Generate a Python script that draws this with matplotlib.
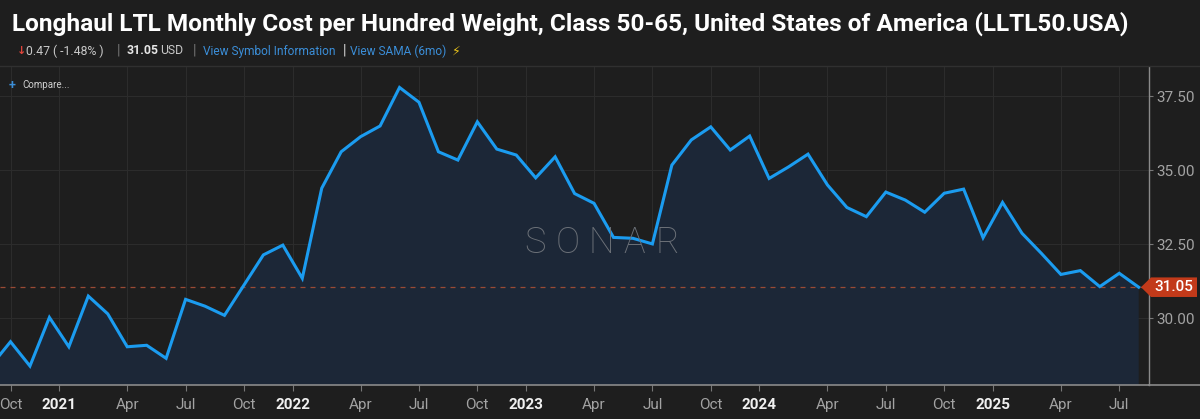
import matplotlib
matplotlib.use("Agg")
import matplotlib.pyplot as plt
import matplotlib.transforms as mtransforms
from matplotlib.patches import Polygon
import pandas as pd
import numpy as np

# ---------------- data ----------------
start_month = "2020-09"
values = [28.40, 29.21, 28.39, 30.03, 29.04, 30.75, 30.15, 29.04, 29.09, 28.65,
          30.64, 30.41, 30.10, 31.12, 32.14, 32.47, 31.35, 34.39, 35.62, 36.13,
          36.49, 37.79, 37.29, 35.62, 35.34, 36.63, 35.71, 35.51, 34.74, 35.45,
          34.21, 33.88, 32.73, 32.70, 32.51, 35.17, 36.02, 36.46, 35.68, 36.15,
          34.72, 35.11, 35.54, 34.50, 33.74, 33.43, 34.26, 33.99, 33.58, 34.22,
          34.36, 32.72, 33.91, 32.87, 32.19, 31.48, 31.61, 31.07, 31.52, 31.05]
y_ticks = [30.00, 32.50, 35.00, 37.50]
title = "Longhaul LTL Monthly Cost per Hundred Weight, Class 50-65, United States of America (LLTL50.USA)"
change_text = "0.47 ( -1.48% )"
last_text = "31.05"
unit_text = "USD"
link1 = "View Symbol Information"
link2 = "View SAMA (6mo)"

dates = pd.date_range(start_month, periods=len(values), freq="MS")
x = np.arange(len(values))

# ---------------- style ----------------
BG = "#1e1e1e"
FILL = "#1c2737"
LINE = "#1b9cf0"
GRID = "#2c2c2c"
TICK = "#a3a3a3"
FONT = ["Roboto", "DejaVu Sans"]
plt.rcParams["font.family"] = FONT

W, H = 1200, 419
fig = plt.figure(figsize=(W / 100, H / 100), dpi=100, facecolor=BG)

ax_left, ax_right = 0 / W, 1149 / W
ax_top, ax_bottom = 67 / H, 385 / H
ax = fig.add_axes([ax_left, 1 - ax_bottom, ax_right - ax_left, ax_bottom - ax_top])
ax.set_facecolor(BG)

ax.fill_between(x, values, 0, color=FILL, zorder=1, linewidth=0)
ax.plot(x, values, color=LINE, lw=2.2, zorder=3, solid_joinstyle="miter")
ax.set_xlim(0.46, 59.53)
ax.set_ylim(27.75, 38.48)

# last value dashed line
ax.axhline(values[-1], color="#9a4a34", lw=0.9, ls=(0, (4, 4)), zorder=2)

# ticks
mt, ml, yt, yl = [], [], [], []
for i, d in enumerate(dates):
    if d.month == 1:
        yt.append(i - 0.5); yl.append(str(d.year))
    elif d.month in (4, 7, 10):
        mt.append(i); ml.append(d.strftime("%b"))
all_t = mt + yt
ax.set_xticks(all_t)
ax.set_xticklabels(ml + yl)
for lab, t in zip(ax.get_xticklabels(), all_t):
    if t in yt:
        lab.set_color("#f0f0f0"); lab.set_fontweight("bold")
    else:
        lab.set_color(TICK)
ax.tick_params(axis="x", length=4, color="#777777", labelsize=11, pad=5)
for g in all_t:
    ax.axvline(g, color=GRID, lw=0.8, zorder=0.5)

ax.yaxis.tick_right()
ax.set_yticks(y_ticks)
ax.set_yticklabels([f"{v:.2f}" for v in y_ticks])
ax.tick_params(axis="y", length=3, color="#777777", labelsize=11, labelcolor=TICK, pad=2)
for v in y_ticks:
    ax.axhline(v, color=GRID, lw=0.8, zorder=0.5)

for s in ["top", "left"]:
    ax.spines[s].set_visible(False)
ax.spines["right"].set_color("#8a8a8a")
ax.spines["bottom"].set_color("#8a8a8a")
ax.spines["bottom"].set_linewidth(1.2)
ax.spines["right"].set_linewidth(1.0)

# bottom line continuing to the right
fig.add_artist(plt.Line2D([ax_right, 1], [1 - ax_bottom, 1 - ax_bottom],
                          color="#8a8a8a", lw=1.2, transform=fig.transFigure))

# price tag
blend = mtransforms.blended_transform_factory(fig.transFigure, ax.transData)
tag_h = 0.33
poly = Polygon([[1141 / W, values[-1]], [1151 / W, values[-1] + tag_h],
                [1197 / W, values[-1] + tag_h], [1197 / W, values[-1] - tag_h],
                [1151 / W, values[-1] - tag_h]], closed=True,
               facecolor="#c23a1a", edgecolor="none", transform=blend, clip_on=False, zorder=5)
fig.add_artist(poly)
fig.text(1174 / W, values[-1], last_text, transform=blend, ha="center", va="center",
         color="white", fontsize=11, fontweight="medium", zorder=6)

# watermark
for k, ch in enumerate("SONAR"):
    fig.text((535 + k * 33) / W, 1 - 243 / H, ch, ha="center", va="center",
             color="#6c7178", fontsize=26, fontweight="light", zorder=4)

# header
fig.add_artist(plt.Line2D([0, 1], [1 - 66.5 / H, 1 - 66.5 / H], color="#303030", lw=1,
                          transform=fig.transFigure))
fig.text(12 / W, 1 - 24 / H, title, ha="left", va="center", color="white",
         fontsize=17.6, fontweight="bold")
yy = 1 - 51 / H
fig.text(17 / W, yy, "↓", ha="left", va="center", color="#e0443a", fontsize=8,
         fontweight="bold", family=["DejaVu Sans"])
fig.text(26 / W, yy, change_text, ha="left", va="center", color="#c8c8c8", fontsize=8.8)
fig.text(117 / W, yy, "|", ha="left", va="center", color="#777777", fontsize=10)
fig.text(127 / W, yy, last_text, ha="left", va="center", color="#e6e6e6", fontsize=8.8,
         fontweight="bold")
fig.text(160 / W, yy, unit_text, ha="left", va="center", color="#c8c8c8", fontsize=8.8)
fig.text(193 / W, yy, "|", ha="left", va="center", color="#777777", fontsize=10)
fig.text(203 / W, yy, link1, ha="left", va="center", color="#3b8ed8", fontsize=8.6)
fig.text(343 / W, yy, "|", ha="left", va="center", color="#e0e0e0", fontsize=10)
fig.text(350 / W, yy, link2, ha="left", va="center", color="#3b8ed8", fontsize=8.6)
fig.text(452 / W, yy, "⚡", ha="left", va="center", color="#e8c21a", fontsize=9,
         family=["DejaVu Sans"])

# compare
fig.text(9 / W, 1 - 85 / H, "+", ha="left", va="center", color="#3b8ed8", fontsize=9,
         fontweight="bold")
fig.text(22 / W, 1 - 85 / H, "Compare...", ha="left", va="center", color="#cfcfcf", fontsize=7)

fig.savefig("out.png", dpi=100, facecolor=BG)
